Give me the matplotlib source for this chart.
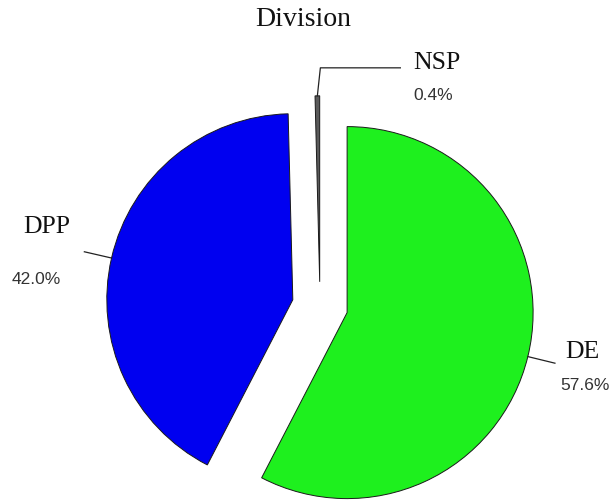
import numpy as np
import matplotlib
matplotlib.use("Agg")
import matplotlib.pyplot as plt

# Division shares (percent), drawn clockwise from 12 o'clock
labels = ["DE", "DPP", "NSP"]
shares = [57.6, 42.0, 0.4]
colors = ["#1ef01e", "#0000f0", "#5a5a5a"]
explode = [0.15, 0.15, 0.13]

W, H = 613, 502
R_PX = 186.0          # pie radius in pixels
CX, CY = 320, 307     # pie centre in pixels (from top-left)

fig = plt.figure(figsize=(W / 100, H / 100), dpi=100)
ax = fig.add_axes([0, 0, 1, 1])

wedges, _ = ax.pie(shares, colors=colors, explode=explode, startangle=90,
                   counterclock=False, radius=1.0,
                   wedgeprops=dict(edgecolor="#1a1a1a", linewidth=0.7))

ax.set_xlim(-CX / R_PX, (W - CX) / R_PX)
ax.set_ylim(-(H - CY) / R_PX, CY / R_PX)
ax.set_aspect("auto")
ax.axis("off")

serif = ["Liberation Serif", "DejaVu Serif"]
sans = ["Liberation Sans", "DejaVu Sans"]

# per-label layout: (name offset, name ha, pct offset, pct ha, elbow) in pixels
layout = {
    "DE": ((10, 12), "left", (5, -21), "left", None),
    "DPP": ((-14, 26), "right", (-23, -27), "right", None),
    "NSP": ((13, 6), "left", (13, -27), "left", 80),
}

for w, name, val in zip(wedges, labels, shares):
    mid = np.deg2rad((w.theta1 + w.theta2) / 2)
    cx, cy = w.center
    d = np.array([np.cos(mid), np.sin(mid)])
    p0 = np.array([cx, cy]) + d * w.r
    p1 = np.array([cx, cy]) + d * w.r * 1.15
    noff, nha, poff, pha, elbow = layout[name]
    if elbow is not None:
        p1 = np.array([p0[0] + 3 / R_PX, p0[1] + 28 / R_PX])
        p2 = p1 + np.array([elbow / R_PX, 0])
        ax.plot([p0[0], p1[0], p2[0]], [p0[1], p1[1], p2[1]],
                color="#222222", lw=0.9)
        anchor = p2
    else:
        ax.plot([p0[0], p1[0]], [p0[1], p1[1]], color="#222222", lw=0.9)
        anchor = p1
    ax.annotate(name, xy=anchor, xytext=noff, textcoords="offset pixels",
                ha=nha, va="center", fontsize=18.5, family=serif,
                color="#111111")
    ax.annotate(f"{val:.1f}%", xy=anchor, xytext=poff,
                textcoords="offset pixels", ha=pha, va="center",
                fontsize=12.5, family=sans, color="#333333")

fig.text(303 / W, 1 - 19 / H, "Division", ha="center", va="center",
         fontsize=20, family=serif, color="#111111")

fig.savefig("out.png", dpi=100)
